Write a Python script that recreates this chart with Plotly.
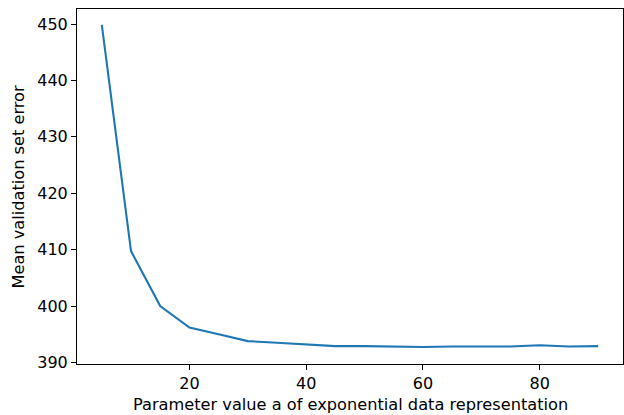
import plotly.graph_objects as go

param_a = [5, 10, 15, 20, 25, 30, 35, 40, 45, 50, 55, 60, 65, 70, 75, 80, 85, 90]
mean_error = [449.85, 409.75, 400.0, 396.2, 395.0, 393.8, 393.5, 393.2, 392.9, 392.9,
              392.8, 392.75, 392.85, 392.8, 392.85, 393.05, 392.85, 392.9]

x_ticks = [20, 40, 60, 80]
y_ticks = [390, 400, 410, 420, 430, 440, 450]

x_title = "Parameter value a of exponential data representation"
y_title = "Mean validation set error"

font = dict(family="DejaVu Sans", size=16, color="black")
title_font = dict(family="DejaVu Sans", size=16.2, color="black")

fig = go.Figure()
fig.add_trace(go.Scatter(x=param_a, y=mean_error, mode="lines",
                         line=dict(color="#1f77b4", width=2.1)))

axis_common = dict(showline=True, linecolor="black", linewidth=1.1, mirror=True,
                   ticks="outside", ticklen=5, tickwidth=1.1, tickcolor="black",
                   showgrid=False, zeroline=False, automargin=False,
                   tickfont=font)

fig.update_layout(
    width=624, height=415,
    margin=dict(l=77, r=1, t=9, b=51),
    plot_bgcolor="white", paper_bgcolor="white",
    showlegend=False,
    xaxis=dict(range=[0.75, 94.25], tickvals=x_ticks, **axis_common),
    yaxis=dict(range=[389.74, 452.66], tickvals=y_ticks, **axis_common),
    annotations=[
        dict(text=x_title, xref="paper", yref="paper", x=0.5, y=0,
             xanchor="center", yanchor="middle", yshift=-40, showarrow=False, font=title_font),
        dict(text=y_title, xref="paper", yref="paper", x=0, y=0.5, textangle=-90,
             xanchor="center", yanchor="middle", xshift=-59, showarrow=False, font=title_font),
    ],
)

fig.write_html("out.html", config={"displayModeBar": False},
               post_script="document.body.style.margin='0px';document.body.style.overflow='hidden';")
